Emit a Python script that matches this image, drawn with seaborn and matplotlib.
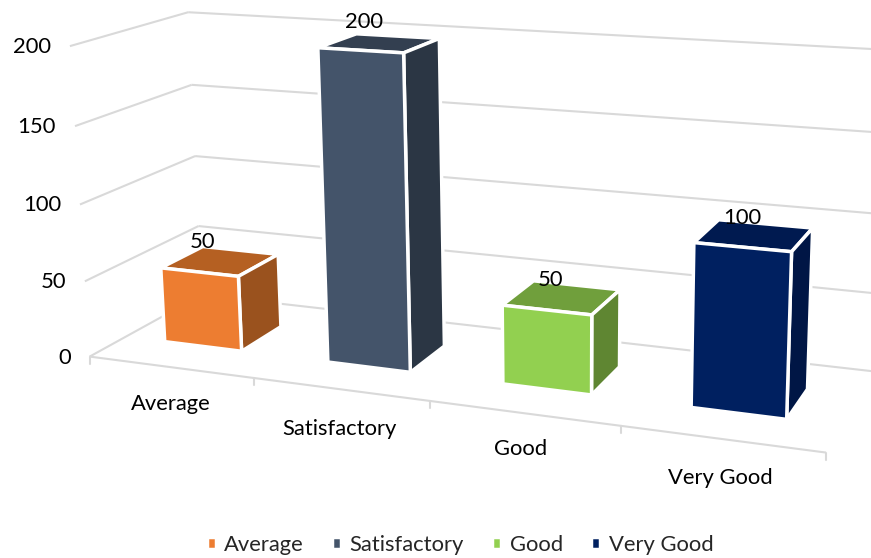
import numpy as np
import pandas as pd
import matplotlib
matplotlib.use('Agg')
import matplotlib.pyplot as plt
import seaborn as sns
from matplotlib.patches import Polygon
from matplotlib.transforms import Affine2D, Transform

ratings = ['Average', 'Satisfactory', 'Good', 'Very Good']
counts = [50, 200, 50, 100]
y_ticks = [0, 50, 100, 150, 200]

front_colors = ['#ED7D31', '#44546A', '#92D050', '#002060']
top_colors = ['#B56022', '#333F50', '#709F3C', '#001A50']
side_colors = ['#9A521E', '#2B3644', '#5F8632', '#001645']
grid_color = '#D9D9D9'

W, H = 871, 558

# where the corners of the chart box sit in the picture: (category, value, depth) -> pixel
box_world = [(0, 0, 0), (1, 0, 0), (2, 0, 0), (3, 0, 0), (4, 0, 0),
             (0, 50, 0), (0, 100, 0), (0, 150, 0), (0, 200, 0),
             (0, 0, 1), (0, 50, 1), (0, 100, 1), (0, 150, 1), (0, 200, 1),
             (4, 0, 1), (4, 50, 1), (4, 100, 1), (4, 150, 1), (4, 200, 1)]
box_pixel = [(91, 357), (254, 379), (430, 402), (620, 427), (825, 452),
             (85, 282), (80, 204), (75, 125), (70, 44),
             (201, 293), (198, 226), (195, 157), (192, 86), (188, 13),
             (876, 370), (879, 293), (882, 214), (885, 134), (888, 50)]


def fit_camera(world, pixel):
    # plain DLT, gives a 3x4 matrix
    rows = []
    for (u, v, w), (px, py) in zip(world, pixel):
        v, px, py = v / 200, px / 1000, py / 1000
        rows.append([u, v, w, 1, 0, 0, 0, 0, -px * u, -px * v, -px * w, -px])
        rows.append([0, 0, 0, 0, u, v, w, 1, -py * u, -py * v, -py * w, -py])
    return np.linalg.svd(np.array(rows))[2][-1].reshape(3, 4)


camera = fit_camera(box_world, box_pixel)


def project(u, v, w):
    u, v, w = np.broadcast_arrays(np.asarray(u, float), np.asarray(v, float) / 200, np.asarray(w, float))
    p = camera @ np.stack([u, v, w, np.ones_like(u)])
    return p[0] / p[2] * 1000, p[1] / p[2] * 1000


bar_shift = 0.49  # category 0 is centred close to u = 0.5
bar_width = 0.48
depth_front = 0.30
depth_back = 0.68


class FrontFace(Transform):
    # sends seaborn's bar rectangles through the camera
    input_dims = 2
    output_dims = 2

    def __init__(self, bar_depth):
        super().__init__()
        self.bar_depth = bar_depth

    def transform_non_affine(self, xy):
        xy = np.asarray(xy, float)
        px, py = project(xy[:, 0] + bar_shift, xy[:, 1], self.bar_depth)
        return np.column_stack([px, H - py])


sns.set_style('white')
plt.rcParams['font.family'] = ['Lato', 'DejaVu Sans']

fig = plt.figure(figsize=(W / 100, H / 100), dpi=100)
ax = fig.add_axes([0, 0, 1, 1])

df = pd.DataFrame({'rating': ratings, 'count': counts})
sns.barplot(data=df, x='rating', y='count', hue='rating', hue_order=ratings,
            palette=front_colors, width=bar_width, dodge=False, legend=True,
            linewidth=2.5, edgecolor='white', saturation=1, ax=ax, zorder=5)
ax.set_xlim(-0.5, 3.5)
ax.set_ylim(0, 200)
ax.set_axis_off()

pix = Affine2D().scale(1, -1).translate(0, H)  # picture pixels, y down


def line3d(a, b, **kw):
    xs, ys = project([a[0], b[0]], [a[1], b[1]], [a[2], b[2]])
    ax.plot(xs, ys, transform=pix, color=grid_color, lw=1.5, zorder=1, clip_on=False, solid_capstyle='butt', **kw)


for t in y_ticks:
    line3d((0, t, 0), (0, t, 1))
    line3d((0, t, 1), (4, t, 1))
    tx, ty = project(0, t, 0)
    ax.text(float(tx) - 19, float(ty) + 1, str(t), transform=pix, ha='right', va='center', fontsize=15.8, color='black')
line3d((0, 0, 0), (4, 0, 0))
for i in range(5):
    tx, ty = project(i, 0, 0)
    ax.plot([tx, tx], [ty, ty + 7], transform=pix, color=grid_color, lw=1.5, zorder=1, clip_on=False)

label_nudge = [(0, -5), (8, -12), (17, -1), (24, -2)]
name_nudge = [(0, 37), (-1, 40), (-3, 36), (-1, 39)]

for i, (bar, name) in enumerate(zip(ax.patches, ratings)):
    bar.set_transform(FrontFace(depth_front))
    bar.set_clip_on(False)
    x0 = bar.get_x() + bar_shift
    x1 = x0 + bar.get_width()
    v = bar.get_height()

    top = np.column_stack(project([x0, x1, x1, x0], v, [depth_front, depth_front, depth_back, depth_back]))
    side = np.column_stack(project(x1, [0, v, v, 0], [depth_front, depth_front, depth_back, depth_back]))
    for verts, col in ((top, top_colors[i]), (side, side_colors[i])):
        ax.add_patch(Polygon(verts, closed=True, facecolor=col, edgecolor='white', lw=2.5,
                             transform=pix, zorder=4, clip_on=False, joinstyle='miter'))

    # value label near the back corner of the top
    bx, by = project(x0, v, depth_back)
    ax.text(float(bx) + label_nudge[i][0], float(by) + label_nudge[i][1], str(int(v)), transform=pix,
            ha='center', va='center', fontsize=15.8, color='black', zorder=6)

    # category label under the floor
    cx, cy = project(i + 0.5, 0, 0)
    ax.text(float(cx) + name_nudge[i][0], float(cy) + name_nudge[i][1], name, transform=pix,
            ha='center', va='center', fontsize=15.8, color='black')

sns.move_legend(ax, 'center', bbox_to_anchor=(460 / W, 1 - 545 / H), ncol=4, frameon=False,
                title=None, fontsize=15.8, handlelength=0.42, handleheight=0.42,
                handletextpad=0.38, columnspacing=1.28, borderpad=0)

fig.savefig('out.png', dpi=100)
